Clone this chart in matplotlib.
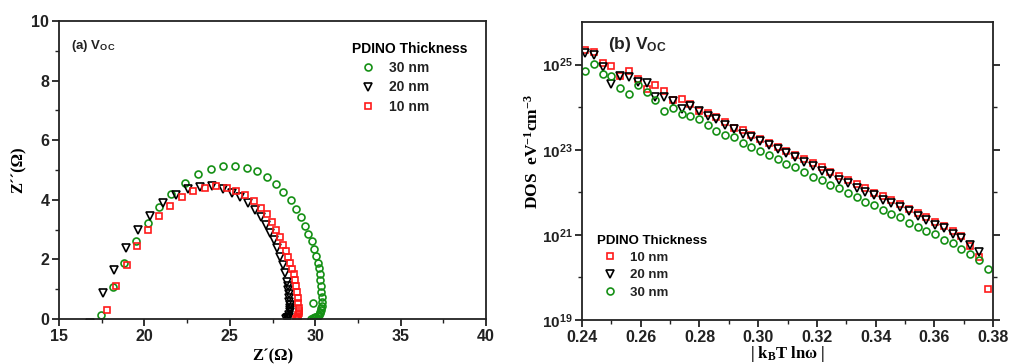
import matplotlib
matplotlib.use('Agg')
import matplotlib.pyplot as plt
import numpy as np
from matplotlib.ticker import FixedLocator, MultipleLocator, FuncFormatter

plt.rcParams['font.family'] = 'Liberation Sans'
plt.rcParams['font.weight'] = 'bold'
plt.rcParams['mathtext.fontset'] = 'custom'
plt.rcParams['mathtext.rm'] = 'Liberation Serif:bold'
plt.rcParams['mathtext.bf'] = 'Liberation Serif:bold'
plt.rcParams['mathtext.sf'] = 'Liberation Sans:bold'
plt.rcParams['mathtext.default'] = 'rm'

# (a) Nyquist plot, Z' / Z'' in ohm
z30_re = [17.46, 18.14, 18.81, 19.49, 20.18, 20.88, 21.58, 22.38, 23.14, 23.87, 24.61, 25.33,
          26.00, 26.58, 27.17, 27.68, 28.14, 28.55, 28.89, 29.18, 29.39, 29.59, 29.79, 29.92,
          30.04, 30.14, 30.20, 30.25, 30.29, 30.33, 30.35, 30.37, 30.37, 30.37, 30.36, 30.33,
          30.29, 30.25, 30.19, 30.14, 30.07, 30.00, 29.92, 29.84, 29.75, 29.84]
z30_im = [0.13, 1.06, 1.87, 2.63, 3.23, 3.75, 4.21, 4.58, 4.87, 5.04, 5.15, 5.15,
          5.08, 4.96, 4.76, 4.54, 4.25, 3.99, 3.69, 3.41, 3.13, 2.85, 2.61, 2.36,
          2.11, 1.88, 1.70, 1.51, 1.31, 1.11, 0.92, 0.75, 0.58, 0.44, 0.36, 0.30,
          0.24, 0.19, 0.14, 0.11, 0.08, 0.06, 0.04, 0.02, 0.01, 0.55]

z20_re = [16.80, 17.56, 18.24, 18.91, 19.61, 20.35, 21.07, 21.84, 22.56, 23.26, 23.93, 24.57,
          25.12, 25.61, 26.04, 26.46, 26.82, 27.09, 27.34, 27.56, 27.75, 27.95, 28.11, 28.24,
          28.34, 28.38, 28.42, 28.45, 28.48, 28.49, 28.50, 28.52, 28.52, 28.50, 28.48, 28.46,
          28.42, 28.38, 28.34, 28.30]
z20_im = [-0.12, 0.86, 1.66, 2.37, 2.98, 3.47, 3.89, 4.16, 4.35, 4.44, 4.47, 4.36,
          4.23, 4.10, 3.90, 3.65, 3.41, 3.14, 2.89, 2.65, 2.37, 2.09, 1.81, 1.53,
          1.25, 1.11, 0.97, 0.83, 0.69, 0.58, 0.47, 0.38, 0.30, 0.22, 0.15, 0.08,
          0.05, 0.03, 0.02, 0.01]

z10_re = [17.83, 18.36, 18.96, 19.57, 20.20, 20.86, 21.52, 22.21, 22.87, 23.54, 24.20, 24.82,
          25.37, 25.90, 26.39, 26.80, 27.15, 27.44, 27.71, 27.91, 28.11, 28.26, 28.42, 28.54,
          28.65, 28.73, 28.81, 28.87, 28.93, 28.96, 29.00, 29.02, 29.03, 29.02, 29.00, 28.97,
          28.93, 28.88]
z10_im = [0.31, 1.11, 1.81, 2.45, 2.98, 3.45, 3.80, 4.10, 4.30, 4.40, 4.46, 4.39,
          4.30, 4.16, 3.96, 3.74, 3.51, 3.24, 2.99, 2.75, 2.50, 2.29, 2.07, 1.87,
          1.68, 1.50, 1.31, 1.11, 0.92, 0.72, 0.53, 0.36, 0.26, 0.19, 0.12, 0.06,
          0.03, 0.01]

# (b) DOS vs |kB T ln w|, stored as log10(DOS)
kt = [0.2411, 0.2441, 0.2471, 0.2500, 0.2530, 0.2560, 0.2590, 0.2620, 0.2649, 0.2679,
      0.2709, 0.2739, 0.2769, 0.2798, 0.2828, 0.2858, 0.2888, 0.2918, 0.2947, 0.2977,
      0.3007, 0.3037, 0.3067, 0.3096, 0.3126, 0.3156, 0.3186, 0.3216, 0.3245, 0.3275,
      0.3305, 0.3335, 0.3365, 0.3394, 0.3424, 0.3454, 0.3484, 0.3514, 0.3543, 0.3573,
      0.3603, 0.3633, 0.3663, 0.3692, 0.3722, 0.3752, 0.3782]
dos10 = [25.34, 25.29, 25.03, 24.96, 24.73, 24.84, 24.66, 24.43, 24.52, 24.37,
         24.16, 24.18, 24.08, 23.92, 23.86, 23.76, 23.66, 23.50, 23.47, 23.35,
         23.24, 23.16, 23.06, 22.96, 22.87, 22.78, 22.69, 22.59, 22.48, 22.38,
         22.29, 22.20, 22.10, 21.99, 21.91, 21.81, 21.72, 21.61, 21.52, 21.41,
         21.30, 21.20, 21.09, 20.98, 20.73, 20.47, 19.73]
dos20 = [25.27, 25.23, 24.95, 24.55, 24.74, 24.70, 24.59, 24.56, 24.23, 24.23,
         24.15, 23.96, 24.02, 23.90, 23.79, 23.73, 23.59, 23.49, 23.38, 23.30,
         23.20, 23.10, 23.02, 22.93, 22.83, 22.71, 22.61, 22.50, 22.42, 22.30,
         22.22, 22.09, 22.01, 21.93, 21.83, 21.74, 21.66, 21.56, 21.45, 21.34,
         21.24, 21.15, 21.03, 20.92, 20.76, 20.59]
dos30 = [24.84, 25.02, 24.77, 24.74, 24.45, 24.31, 24.52, 24.35, 24.17, 23.92,
         23.98, 23.84, 23.78, 23.71, 23.59, 23.43, 23.35, 23.30, 23.16, 23.06,
         22.96, 22.88, 22.77, 22.67, 22.59, 22.48, 22.36, 22.28, 22.18, 22.09,
         21.98, 21.89, 21.77, 21.70, 21.58, 21.50, 21.43, 21.29, 21.19, 21.09,
         21.01, 20.89, 20.80, 20.66, 20.56, 20.41, 20.20]

green = '#159015'
red = '#ff1a1a'
mk = dict(linestyle='none', markerfacecolor='none', markeredgewidth=1.2)

fig = plt.figure(figsize=(10.11, 3.64), dpi=100)
ax1 = fig.add_axes([0.0584, 0.1236, 0.4224, 0.8187])
ax2 = fig.add_axes([0.5757, 0.1209, 0.4065, 0.8187])

# ---- (a)
ax1.plot(z30_re, z30_im, 'o', color=green, markeredgecolor=green, markersize=5, label='30 nm', **mk)
ax1.plot(z20_re, z20_im, 'v', color='k', markeredgecolor='k', markersize=5.5, label='20 nm', **mk)
ax1.plot(z10_re, z10_im, 's', color=red, markeredgecolor=red, markersize=4.5, label='10 nm', **mk)
ax1.set_xlim(15, 40)
ax1.set_ylim(0, 10)
ax1.xaxis.set_major_locator(MultipleLocator(5))
ax1.xaxis.set_minor_locator(MultipleLocator(2.5))
ax1.yaxis.set_major_locator(MultipleLocator(2))
ax1.yaxis.set_minor_locator(MultipleLocator(1))
ax1.set_xlabel("Z´(Ω)", family='Liberation Serif', fontsize=12, fontweight='bold')
ax1.xaxis.set_label_coords(0.5, -0.098)
ax1.set_ylabel("Z´´(Ω)", family='Liberation Serif', fontsize=12, fontweight='bold')
ax1.yaxis.set_label_coords(-0.076, 0.5)
ax1.text(0.028, 0.905, r'(a) V$_{\mathsf{OC}}$', transform=ax1.transAxes, fontsize=9.5,
         fontweight='bold', color='#222222')
leg1 = ax1.legend(title='PDINO Thickness', loc='upper left', bbox_to_anchor=(0.348, 0.885),
                  bbox_transform=fig.transFigure, frameon=False, fontsize=10,
                  title_fontproperties={'weight': 'bold', 'size': 10}, alignment='left',
                  handlelength=2.4, handletextpad=0.3, labelspacing=0.38, borderpad=0,
                  borderaxespad=0)
for t in leg1.get_texts():
    t.set_color('#222222')

# ---- (b)
ax2.semilogy(kt, 10.0 ** np.array(dos10), 's', color=red, markeredgecolor=red, markersize=4.5,
             label='10 nm', **mk)
ax2.semilogy(kt[:len(dos20)], 10.0 ** np.array(dos20), 'v', color='k', markeredgecolor='k',
             markersize=5.5, label='20 nm', **mk)
ax2.semilogy(kt, 10.0 ** np.array(dos30), 'o', color=green, markeredgecolor=green, markersize=5,
             label='30 nm', **mk)
ax2.set_xlim(0.24, 0.38)
ax2.set_ylim(1e19, 1e26)
ax2.xaxis.set_major_locator(MultipleLocator(0.02))
ax2.xaxis.set_minor_locator(MultipleLocator(0.01))
ax2.xaxis.set_major_formatter(FuncFormatter(lambda v, p: f'{v:.2f}'))
ax2.yaxis.set_major_locator(FixedLocator([1e19, 1e21, 1e23, 1e25]))
ax2.yaxis.set_minor_locator(FixedLocator([1e20, 1e22, 1e24]))
ax2.yaxis.set_major_formatter(FuncFormatter(
    lambda v, p: r'$\mathsf{10^{%d}}$' % round(np.log10(v))))
ax2.yaxis.set_minor_formatter(FuncFormatter(lambda v, p: ''))
ax2.set_xlabel(r'| k$_{\mathrm{B}}$T lnω |', family='Liberation Serif', fontsize=12,
               fontweight='bold')
ax2.xaxis.set_label_coords(0.5, -0.082)
ax2.set_ylabel(r'DOS  eV$^{-1}$cm$^{-3}$', family='Liberation Serif', fontsize=12.5,
               fontweight='bold')
ax2.yaxis.set_label_coords(-0.097, 0.565)
ax2.text(0.062, 0.91, r'(b) V$_{\mathsf{OC}}$', transform=ax2.transAxes, fontsize=12.5,
         fontweight='bold', color='#222222')
leg2 = ax2.legend(title='PDINO Thickness', loc='upper left', bbox_to_anchor=(0.5905, 0.355),
                  bbox_transform=fig.transFigure, frameon=False, fontsize=9.5,
                  title_fontproperties={'weight': 'bold', 'size': 9.5}, alignment='left',
                  handlelength=2.0, handletextpad=0.5, labelspacing=0.38, borderpad=0,
                  borderaxespad=0)
for t in leg2.get_texts():
    t.set_color('#222222')

for ax in (ax1, ax2):
    for s in ax.spines.values():
        s.set_linewidth(1.3)
        s.set_color('#222222')
    ax.tick_params(which='major', direction='out', length=5, width=1.3, labelsize=11.5,
                   colors='#222222', pad=2)
    ax.tick_params(which='minor', direction='out', length=3, width=1.0, colors='#222222')
    ax.tick_params(top=False, which='both')
    for lab in ax.get_xticklabels() + ax.get_yticklabels():
        lab.set_fontweight('bold')

ax1.tick_params(right=False, which='both')
ax2.tick_params(right=True, labelright=False, which='both')
ax2.tick_params(axis='y', which='major', labelsize=11)

fig.savefig('out.png', dpi=100)
